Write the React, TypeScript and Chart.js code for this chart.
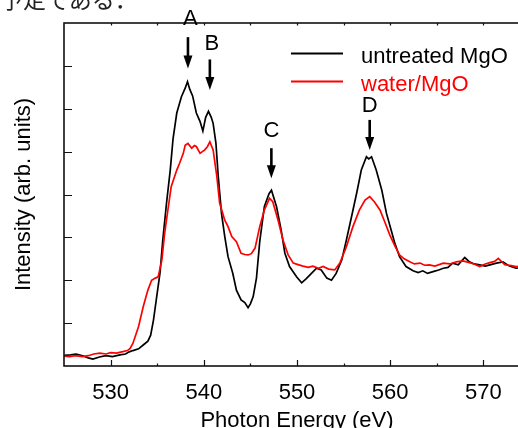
import React, { useEffect, useRef } from 'react';
import { Chart, registerables } from 'chart.js';

Chart.register(...registerables);

// ---- data ----
const blackEnergy = [
  525.0, 525.7, 526.3, 527.0, 527.6, 528.1, 528.8, 529.5, 530.2, 531.0,
  531.6, 532.0, 532.4, 533.0, 533.5, 534.0, 534.3, 534.6, 534.9, 535.3,
  535.6, 536.0, 536.4, 536.7, 537.1, 537.6, 538.0, 538.25, 538.5, 538.8,
  539.2, 539.6, 539.9, 540.2, 540.5, 540.8, 541.0, 541.3, 541.55, 541.9,
  542.25, 542.6, 543.1, 543.5, 544.0, 544.4, 544.75, 545.0, 545.3, 545.65,
  546.0, 546.5, 547.0, 547.26, 547.8, 548.3, 548.7, 549.2, 549.95, 550.5,
  551.0, 551.55, 552.1, 552.6, 553.2, 553.7, 554.2, 554.8, 555.3, 555.85,
  556.4, 556.9, 557.45, 557.7, 558.0, 558.5, 559.1, 559.6, 560.1, 560.5,
  561.0, 561.7, 562.45, 563.0, 563.5, 564.0, 564.6, 565.2, 565.7, 566.2,
  566.7, 567.3, 568.0, 568.5, 569.0, 569.6, 570.2, 570.7, 571.4, 572.1,
  572.8, 573.5, 574.2, 575.0,
];
const blackIntensity = [
  0.25, 0.26, 0.28, 0.24, 0.19, 0.16, 0.21, 0.24, 0.22, 0.26,
  0.28, 0.33, 0.36, 0.40, 0.49, 0.58, 0.72, 1.07, 1.54, 2.17,
  2.94, 3.80, 4.57, 5.30, 5.90, 6.28, 6.48, 6.63, 6.45, 6.30,
  5.90, 5.70, 5.48, 5.80, 5.94, 5.80, 5.66, 5.20, 4.42, 3.56,
  3.02, 2.55, 2.17, 1.77, 1.54, 1.48, 1.36, 1.45, 1.62, 2.05,
  2.90, 3.72, 4.02, 4.10, 3.72, 3.17, 2.63, 2.32, 2.08, 1.94,
  2.04, 2.16, 2.28, 2.24, 2.05, 2.00, 2.16, 2.47, 2.94, 3.48,
  4.03, 4.57, 4.88, 4.83, 4.88, 4.57, 4.10, 3.56, 3.17, 2.86,
  2.55, 2.32, 2.22, 2.18, 2.22, 2.16, 2.20, 2.24, 2.28, 2.30,
  2.40, 2.36, 2.53, 2.43, 2.38, 2.36, 2.33, 2.36, 2.40, 2.43,
  2.33, 2.28, 2.30, 2.27,
];
const redEnergy = [
  525.0, 525.6, 526.2, 527.0, 527.6, 528.2, 528.85, 529.5, 530.0, 530.6,
  531.2, 531.8, 532.1, 532.4, 533.0, 533.5, 534.0, 534.4, 534.8, 535.1,
  535.5, 535.8, 536.2, 536.5, 537.1, 537.4, 537.8, 538.0, 538.3, 538.7,
  539.0, 539.2, 539.6, 540.1, 540.4, 540.65, 541.0, 541.4, 541.7, 542.25,
  542.6, 543.0, 543.5, 544.0, 544.4, 544.75, 545.1, 545.5, 546.0, 546.5,
  547.05, 547.4, 547.97, 548.5, 549.05, 549.6, 550.2, 550.65, 551.2, 551.7,
  552.3, 552.8, 553.4, 554.05, 554.6, 555.3, 556.0, 556.7, 557.3, 557.8,
  558.3, 558.9, 559.4, 559.95, 560.5, 561.0, 561.5, 562.1, 562.6, 563.2,
  563.7, 564.2, 564.8, 565.7, 566.4, 567.1, 567.8, 568.5, 569.0, 569.6,
  570.2, 570.7, 571.2, 571.6, 572.3, 573.0, 573.5, 574.2, 575.0,
];
const redIntensity = [
  0.23, 0.22, 0.24, 0.22, 0.24, 0.28, 0.30, 0.28, 0.31, 0.30,
  0.33, 0.36, 0.41, 0.53, 0.92, 1.38, 1.77, 2.00, 2.05, 2.08,
  2.47, 3.10, 3.72, 4.18, 4.57, 4.73, 4.96, 5.15, 5.19, 5.08,
  5.14, 5.12, 4.96, 5.04, 5.12, 5.23, 5.04, 4.42, 3.80, 3.40,
  3.25, 3.02, 2.90, 2.63, 2.60, 2.59, 2.62, 2.75, 3.25, 3.64,
  3.91, 3.83, 3.40, 2.94, 2.59, 2.40, 2.36, 2.33, 2.30, 2.33,
  2.28, 2.32, 2.26, 2.24, 2.40, 2.78, 3.25, 3.64, 3.87, 3.95,
  3.83, 3.64, 3.37, 3.06, 2.80, 2.59, 2.50, 2.43, 2.38, 2.40,
  2.35, 2.36, 2.33, 2.40, 2.38, 2.43, 2.45, 2.41, 2.38, 2.32,
  2.38, 2.41, 2.44, 2.51, 2.36, 2.34, 2.32, 2.33, 2.30,
];
const seriesLabels = ['untreated MgO', 'water/MgO'];
const seriesColors = ['#000000', '#ff0000'];
const xTickLabels = ['530', '540', '550', '560', '570'];
const xTitle = 'Photon Energy (eV)';
const yTitle = 'Intensity (arb. units)';

// peak annotations (data coordinates)
const peakNames = ['A', 'B', 'C', 'D'];
const peakEnergy = [538.3, 540.65, 547.25, 557.8];
const peakLabelEnergy = [538.55, 540.85, 547.25, 557.8];
const arrowTipLevel = [6.94, 6.44, 4.38, 5.04];
const arrowTailLevel = [7.67, 7.15, 5.08, 5.74];
const peakLabelLevel = [8.1, 7.52, 5.49, 6.06];

const pageText = '予定である．';

const FONT = '"Liberation Sans", Arial, Helvetica, sans-serif';
const FS = 22;
const CANVAS_W = 545;
const CANVAS_H = 440;

const framePlugin = {
  id: 'framePlugin',
  afterDatasetsDraw(chart: any) {
    const { ctx, chartArea: a, scales } = chart;
    const xs = scales.x;
    const ys = scales.y;
    ctx.save();
    // frame
    ctx.strokeStyle = '#111';
    ctx.lineWidth = 1.6;
    ctx.strokeRect(a.left, a.top, a.right - a.left, a.bottom - a.top);
    // x ticks (inside)
    ctx.lineWidth = 1.2;
    ctx.beginPath();
    xs.ticks.forEach((t: any) => {
      if (t.value <= xs.min || t.value >= xs.max) return;
      const px = Math.round(xs.getPixelForValue(t.value)) + 0.5;
      const major = t.value % 10 === 0;
      const len = major ? 6 : 2.5;
      ctx.moveTo(px, a.bottom);
      ctx.lineTo(px, a.bottom - len);
      ctx.moveTo(px, a.top);
      ctx.lineTo(px, a.top + 2.5);
    });
    // y ticks (inside)
    ys.ticks.forEach((t: any) => {
      if (t.value <= ys.min || t.value >= ys.max) return;
      const py = Math.round(ys.getPixelForValue(t.value)) + 0.5;
      ctx.moveTo(a.left, py);
      ctx.lineTo(a.left + 8, py);
      ctx.moveTo(a.right, py);
      ctx.lineTo(a.right - 8, py);
    });
    ctx.stroke();

    // peak arrows + labels
    ctx.fillStyle = '#000';
    ctx.strokeStyle = '#000';
    ctx.font = `${FS}px ${FONT}`;
    ctx.textAlign = 'center';
    ctx.textBaseline = 'middle';
    peakNames.forEach((name, i) => {
      const px = xs.getPixelForValue(peakEnergy[i]);
      const tip = ys.getPixelForValue(arrowTipLevel[i]);
      const tail = ys.getPixelForValue(arrowTailLevel[i]);
      const headLen = 13;
      ctx.lineWidth = 2.6;
      ctx.beginPath();
      ctx.moveTo(px, tail);
      ctx.lineTo(px, tip - headLen + 2);
      ctx.stroke();
      ctx.beginPath();
      ctx.moveTo(px - 4.5, tip - headLen);
      ctx.lineTo(px + 4.5, tip - headLen);
      ctx.lineTo(px, tip);
      ctx.closePath();
      ctx.fill();
      ctx.fillText(name, xs.getPixelForValue(peakLabelEnergy[i]), ys.getPixelForValue(peakLabelLevel[i]));
    });

    // legend
    const lx0 = a.left + 227;
    const lx1 = a.left + 279;
    const tx = a.left + 297;
    const rowY = [a.top + 30.5, a.top + 58.5];
    ctx.textAlign = 'left';
    ctx.textBaseline = 'alphabetic';
    chart.data.datasets.forEach((ds: any, i: number) => {
      ctx.strokeStyle = ds.borderColor;
      ctx.lineWidth = 2;
      ctx.beginPath();
      ctx.moveTo(lx0, rowY[i]);
      ctx.lineTo(lx1, rowY[i]);
      ctx.stroke();
      ctx.fillStyle = ds.borderColor;
      ctx.fillText(ds.label, tx, rowY[i] + 9.5);
    });
    ctx.restore();
  },
};

export default function App() {
  const canvasRef = useRef<HTMLCanvasElement | null>(null);

  useEffect(() => {
    const canvas = canvasRef.current;
    if (!canvas) return;
    const mk = (xs: number[], ys: number[]) => xs.map((x, i) => ({ x, y: ys[i] }));
    const chart = new Chart(canvas, {
      type: 'line',
      data: {
        datasets: [
          {
            label: seriesLabels[0],
            data: mk(blackEnergy, blackIntensity),
            borderColor: seriesColors[0],
            backgroundColor: seriesColors[0],
            borderWidth: 1.7,
            pointRadius: 0,
            tension: 0,
            order: 1,
          },
          {
            label: seriesLabels[1],
            data: mk(redEnergy, redIntensity),
            borderColor: seriesColors[1],
            backgroundColor: seriesColors[1],
            borderWidth: 1.7,
            pointRadius: 0,
            tension: 0,
            order: 0,
          },
        ],
      },
      options: {
        animation: false,
        responsive: false,
        devicePixelRatio: 1,
        layout: { padding: { top: 23, right: CANVAS_W - 530, bottom: 0, left: 0 } },
        plugins: {
          legend: { display: false },
          tooltip: { enabled: false },
        },
        scales: {
          x: {
            type: 'linear',
            position: 'bottom',
            min: 525,
            max: 575,
            grid: { display: false },
            border: { display: false },
            ticks: {
              stepSize: 5,
              autoSkip: false,
              maxRotation: 0,
              padding: 8,
              color: '#000',
              font: { family: FONT, size: FS, lineHeight: 1 },
              callback: (v: any) => (xTickLabels.includes(String(v)) ? String(v) : ''),
            },
            title: {
              display: true,
              text: xTitle,
              color: '#000',
              font: { family: FONT, size: FS, lineHeight: 1 },
              padding: { top: 0, bottom: 8.5 },
            },
            afterFit: (s: any) => {
              s.height = CANVAS_H - 366;
            },
          },
          y: {
            type: 'linear',
            min: 0,
            max: 8,
            grid: { display: false },
            border: { display: false },
            ticks: { stepSize: 1, display: false },
            title: {
              display: true,
              text: yTitle,
              color: '#000',
              font: { family: FONT, size: FS, lineHeight: 1 },
              padding: { top: 13, bottom: 0 },
            },
            afterFit: (s: any) => {
              s.width = 64;
            },
          },
        },
      },
      plugins: [framePlugin],
    } as any);
    return () => chart.destroy();
  }, []);

  return (
    <div
      style={{
        position: 'absolute',
        left: 0,
        top: 0,
        width: 518,
        height: 428,
        overflow: 'hidden',
        background: '#fff',
      }}
    >
      <canvas
        ref={canvasRef}
        width={CANVAS_W}
        height={CANVAS_H}
        style={{ position: 'absolute', left: 0, top: 0, display: 'block' }}
      />
      <div
        style={{
          position: 'absolute',
          left: 0,
          top: -13,
          fontSize: 23,
          lineHeight: '23px',
          fontFamily: '"Noto Sans CJK JP", serif',
          color: '#222',
          whiteSpace: 'nowrap',
        }}
      >
        {pageText}
      </div>
    </div>
  );
}
